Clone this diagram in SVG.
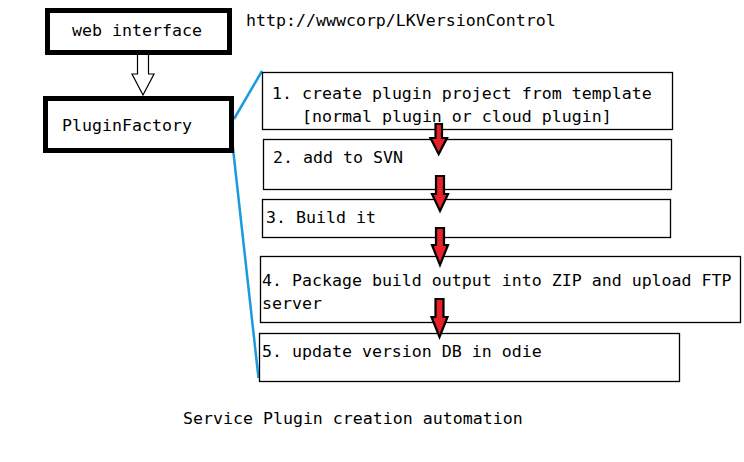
<svg xmlns="http://www.w3.org/2000/svg" width="744" height="462" viewBox="0 0 744 462">
<style>
text{font-family:"DejaVu Sans Mono","Liberation Mono",monospace;font-size:16.6px;fill:#000}
.thick{fill:#fff;stroke:#000;stroke-width:5}
.thin{fill:#fff;stroke:#000;stroke-width:1.3}
.blue{stroke:#1a9be0;stroke-width:2.5;fill:none}
.red{fill:#e8202a;stroke:#000;stroke-width:2.2;stroke-linejoin:miter}
</style>
<rect width="744" height="462" fill="#fff"/>
<g id="connectors">
<path d="M137.5,55 V74 H132 L143,95 L154,74 H148.5 V55" fill="#fff" stroke="#000" stroke-width="1.2"/>
<line class="blue" x1="234" y1="119" x2="262" y2="71"/>
<line class="blue" x1="231.5" y1="135" x2="258.5" y2="378"/>
</g>
<g id="web-interface">
<rect class="thick" x="47.5" y="10.5" width="182" height="42"/>
<text x="137" y="36" text-anchor="middle">web interface</text>
</g>
<g id="url"><text x="246" y="26">http://wwwcorp/LKVersionControl</text></g>
<g id="plugin-factory">
<rect class="thick" x="45.5" y="98.5" width="186" height="52"/>
<text x="62" y="131">PluginFactory</text>
</g>
<g id="step1">
<rect class="thin" x="262.5" y="72.5" width="410" height="57"/>
<text x="272" y="99">1. create plugin project from template</text>
<text x="302" y="122">[normal plugin or cloud plugin]</text>
</g>
<g id="step2">
<rect class="thin" x="263.5" y="139.5" width="408" height="50"/>
<text x="273" y="163">2. add to SVN</text>
</g>
<g id="step3">
<rect class="thin" x="262.5" y="199.5" width="408" height="38"/>
<text x="266" y="223">3. Build it</text>
</g>
<g id="step4">
<rect class="thin" x="260.5" y="256.5" width="480" height="66"/>
<text x="262" y="286">4. Package build output into ZIP and upload FTP</text>
<text x="262" y="309">server</text>
</g>
<g id="step5">
<rect class="thin" x="259.5" y="333.5" width="420" height="48"/>
<text x="262" y="357">5. update version DB in odie</text>
</g>
<g id="red-arrows">
<path class="red" d="M435.5,124 H442 V138 H447 L438.7,154 L430.5,138 H435.5 Z"/>
<path class="red" d="M436,176 H444 V194 H448 L440,211 L432,194 H436 Z"/>
<path class="red" d="M436,228 H444 V245 H448 L440,265 L432,245 H436 Z"/>
<path class="red" d="M435.5,299 H443.5 V317 H447.5 L439.5,337 L431.5,317 H435.5 Z"/>
</g>
<g id="caption"><text x="183" y="424">Service Plugin creation automation</text></g>
</svg>
